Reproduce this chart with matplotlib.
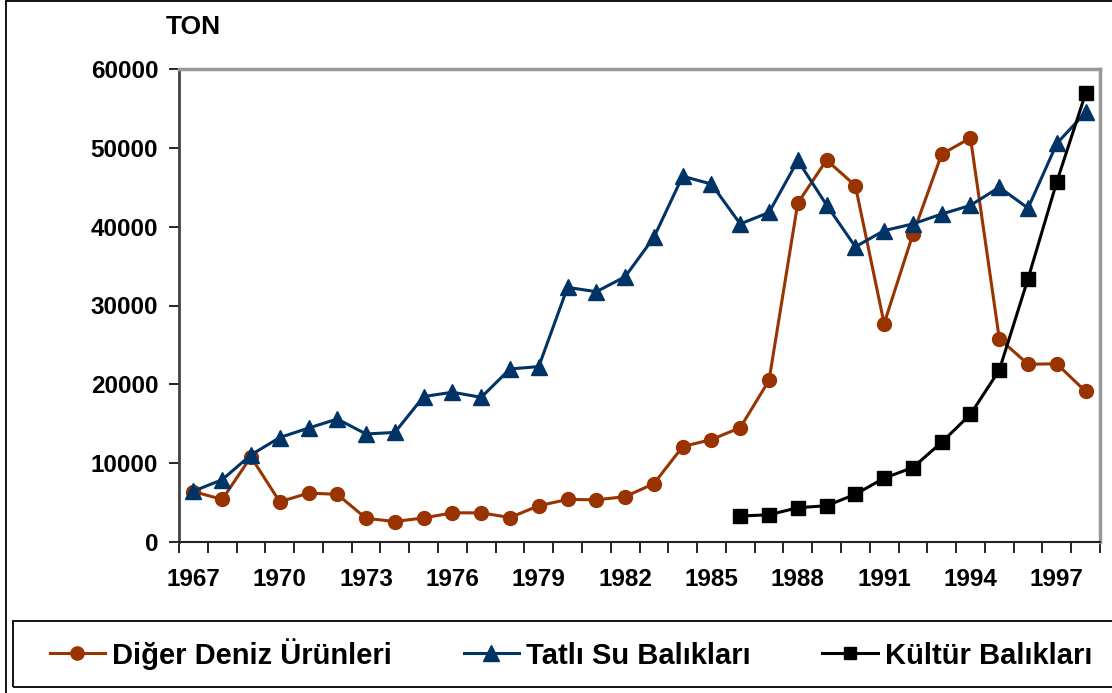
import numpy as np
import matplotlib
matplotlib.use("Agg")
import matplotlib.pyplot as plt
from matplotlib.patches import Rectangle

plt.rcParams['font.family'] = ['Liberation Sans', 'DejaVu Sans']
plt.rcParams['font.weight'] = 'bold'

years = list(range(1967, 1999))
# Diğer Deniz Ürünleri
diger = [6400, 5400, 10800, 5100, 6200, 6050, 3000, 2600, 3050, 3700, 3700,
         3100, 4600, 5400, 5350, 5750, 7400, 12100, 13000, 14500, 20500,
         43000, 48450, 45200, 27700, 39050, 49200, 51250, 25800, 22550,
         22600, 19100]
# Tatlı Su Balıkları
tatli = [6450, 7900, 11050, 13250, 14450, 15600, 13700, 13900, 18450, 19000,
         18350, 21950, 22250, 32300, 31750, 33650, 38650, 46400, 45400,
         40350, 41800, 48400, 42750, 37450, 39500, 40350, 41600, 42700,
         45000, 42350, 50550, 54500]
# Kültür Balıkları (1986 onwards)
kultur = [None] * 19 + [3300, 3450, 4350, 4600, 6050, 8100, 9450, 12650,
                        16200, 21800, 33400, 45700, 56900]

series_names = ["Diğer Deniz Ürünleri", "Tatlı Su Balıkları", "Kültür Balıkları"]
colors = ["#993300", "#003366", "#000000"]
markers = ["o", "^", "s"]
msizes = [10, 12, 9.5]
yticks = [0, 10000, 20000, 30000, 40000, 50000, 60000]

W, H = 1112, 693
fig = plt.figure(figsize=(W / 100, H / 100), dpi=100)
ax = fig.add_axes([179 / W, 1 - 542 / H, (1100 - 179) / W, (542 - 69) / H])

x = np.arange(len(years))
lines = []
for vals, name, c, m, ms in zip([diger, tatli, kultur], series_names, colors, markers, msizes):
    y = np.array([np.nan if v is None else v for v in vals], dtype=float)
    ln, = ax.plot(x, y, color=c, lw=2.2, marker=m, markersize=ms,
                  markerfacecolor=c, markeredgecolor=c, label=name, clip_on=False, zorder=3)
    lines.append(ln)

ax.set_xlim(-0.5, len(years) - 0.5)
ax.set_ylim(0, 60000)
ax.set_yticks(yticks)
ax.set_yticklabels([str(v) for v in yticks])
ax.set_xticks(x[::3])
ax.set_xticklabels([str(years[i]) for i in x[::3]])
ax.set_xticks(np.arange(-0.5, len(years)), minor=True)
ax.tick_params(axis='x', which='major', length=0, pad=19, labelsize=17.5)
ax.tick_params(axis='x', which='minor', length=8, width=1.2, direction='out')
ax.tick_params(axis='y', which='major', length=7, width=1.2, direction='out', pad=8, labelsize=17.5)

ax.spines['left'].set_color('#444444')
ax.spines['left'].set_linewidth(2.0)
ax.spines['bottom'].set_color('#222222')
ax.spines['bottom'].set_linewidth(1.5)
for s in ['top', 'right']:
    ax.spines[s].set_color('#999999')
    ax.spines[s].set_linewidth(2.5)

fig.text(166 / W, 1 - 34 / H, "TON", fontsize=19, fontweight='bold', ha='left', va='baseline')

# legend entries without frame, box drawn separately
leg = fig.legend(handles=lines, loc='lower left', ncol=3, mode='expand',
                 bbox_to_anchor=(32 / W, 6 / H, 1078 / W, 66 / H),
                 frameon=False, prop={'size': 21, 'weight': 'bold'}, handlelength=1.9,
                 handletextpad=0.25, borderaxespad=0, borderpad=0.6, markerscale=0.95)
fig.patches.append(Rectangle((13 / W, 1 - 687 / H), 1.0, 66 / H, transform=fig.transFigure,
                             fill=False, edgecolor='black', lw=1.3))

# outer frame
fig.patches.append(Rectangle((6 / W, -0.01), 1.0, 1.0 + 0.008, transform=fig.transFigure,
                             fill=False, edgecolor='black', lw=1.3))

fig.savefig("out.png", dpi=100)
